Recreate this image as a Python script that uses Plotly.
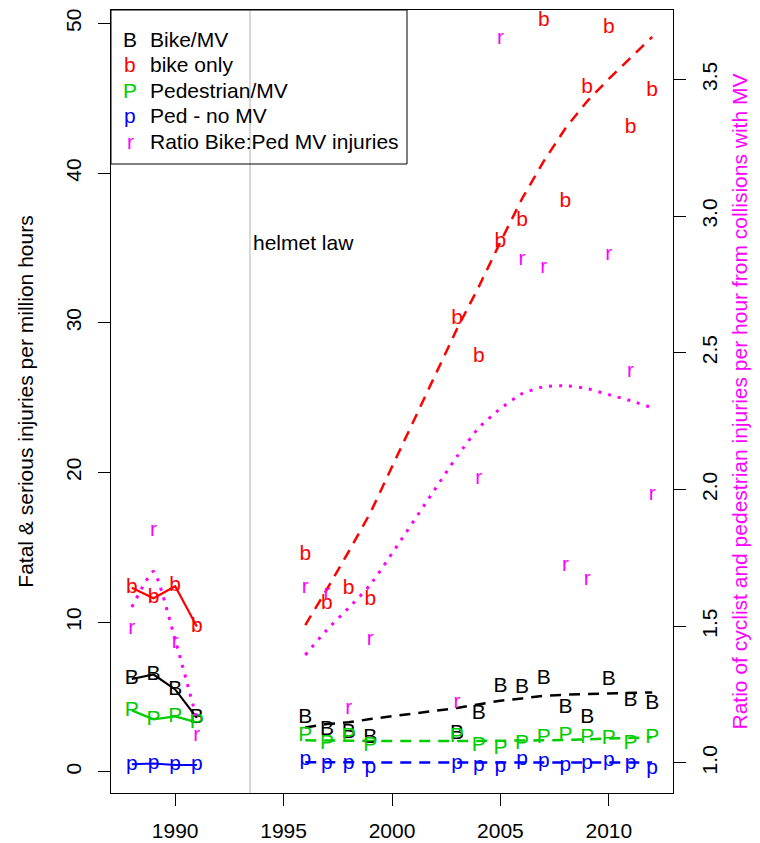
import plotly.graph_objects as go

# ---------------- data ----------------
early_years = [1988, 1989, 1990, 1991]
late_years = [1996, 1997, 1998, 1999, 2003, 2004, 2005, 2006, 2007, 2008, 2009, 2010, 2011, 2012]

bike_mv_early = [6.2, 6.5, 5.5, 3.6]
bike_only_early = [12.3, 11.6, 12.4, 9.7]
ped_mv_early = [4.1, 3.5, 3.7, 3.3]
ped_nomv_early = [0.5, 0.55, 0.45, 0.45]
ratio_early = [1.49, 1.85, 1.44, 1.10]
ratio_trend_early = [1.57, 1.70, 1.45, 1.16]

bike_mv_late = [3.63, 2.84, 2.63, 2.25, 2.56, 3.90, 5.68, 5.59, 6.2, 4.26, 3.63, 6.12, 4.75, 4.57]
bike_mv_trend = [2.96, 3.19, 3.30, 3.52, 4.26, 4.48, 4.75, 4.90, 5.08, 5.15, 5.19, 5.24, 5.28, 5.30]
bike_only_late = [14.5, 11.2, 12.2, 11.5, 30.3, 27.7, 35.4, 36.8, 50.2, 38.1, 45.7, 49.7, 43.0, 45.5]
bike_only_trend = [9.8, 12.2, 14.7, 17.3, 29.6, 32.4, 35.4, 38.3, 40.8, 43.0, 44.8, 46.3, 47.7, 49.1]
ped_mv_late = [2.4, 1.85, 2.34, 1.74, 2.34, 1.74, 1.52, 1.89, 2.25, 2.4, 2.25, 2.18, 1.85, 2.3]
ped_mv_trend = [2.10, 2.08, 2.07, 2.06, 2.05, 2.05, 2.06, 2.08, 2.10, 2.13, 2.17, 2.21, 2.25, 2.30]
ped_nomv_late = [0.78, 0.56, 0.56, 0.29, 0.51, 0.40, 0.33, 0.78, 0.69, 0.40, 0.51, 0.74, 0.56, 0.17]
ped_nomv_trend = [0.63, 0.63, 0.62, 0.62, 0.62, 0.62, 0.62, 0.62, 0.62, 0.62, 0.61, 0.61, 0.61, 0.61]
ratio_late = [1.64, 1.62, 1.20, 1.45, 1.22, 2.04, 3.65, 2.84, 2.81, 1.72, 1.67, 2.86, 2.43, 1.98]
ratio_trend_late = [1.395, 1.487, 1.567, 1.652, 2.121, 2.226, 2.296, 2.351, 2.376, 2.380, 2.369, 2.347, 2.325, 2.299]

helmet_law_year = 1993.45

x_ticks = [1990, 1995, 2000, 2005, 2010]
y_ticks = [0, 10, 20, 30, 40, 50]
y2_ticks = [1.0, 1.5, 2.0, 2.5, 3.0, 3.5]
y2_ticklabels = ["1.0", "1.5", "2.0", "2.5", "3.0", "3.5"]

legend_symbols = ["B", "b", "P", "p", "r"]
legend_labels = ["Bike/MV", "bike only", "Pedestrian/MV", "Ped - no MV", "Ratio Bike:Ped MV injuries"]

# ---------------- styles ----------------
FONT = "Liberation Sans, Arial, Helvetica, sans-serif"
FS = 21
BLACK, RED, GREEN, BLUE, MAGENTA = "#000000", "#FF0000", "#00CD00", "#0000FF", "#FF00FF"
colors = [BLACK, RED, GREEN, BLUE, MAGENTA]

fig = go.Figure()

def line(x, y, color, dash="solid", yaxis="y", shape="linear", width=2.2):
    fig.add_trace(go.Scatter(x=x, y=y, mode="lines", yaxis=yaxis,
                             line=dict(color=color, width=width, dash=dash, shape=shape, smoothing=0.5),
                             showlegend=False, hoverinfo="skip", cliponaxis=False))

def letters(x, y, ch, color, yaxis="y"):
    fig.add_trace(go.Scatter(x=x, y=y, mode="text", text=[ch] * len(x), yaxis=yaxis,
                             textposition="middle center",
                             textfont=dict(family=FONT, size=FS, color=color),
                             showlegend=False, cliponaxis=False))

DASH = "11px,8px"
DOT = "3px,7px"

# early period: solid lines
line(early_years, bike_only_early, RED)
line(early_years, bike_mv_early, BLACK)
line(early_years, ped_mv_early, GREEN)
line(early_years, ped_nomv_early, BLUE)
line(early_years, ratio_trend_early, MAGENTA, dash=DOT, yaxis="y2", shape="spline", width=3)

# late period: dashed trends
line(late_years, bike_only_trend, RED, dash=DASH, width=2.5)
line(late_years, bike_mv_trend, BLACK, dash=DASH, width=2.5)
line(late_years, ped_mv_trend, GREEN, dash=DASH, width=2.5)
line(late_years, ped_nomv_trend, BLUE, dash=DASH, width=2.5)
line(late_years, ratio_trend_late, MAGENTA, dash=DOT, yaxis="y2", shape="spline", width=3)

# points as letters
letters(early_years + late_years, ratio_early + ratio_late, "r", MAGENTA, yaxis="y2")
letters(early_years + late_years, bike_only_early + bike_only_late, "b", RED)
letters(early_years + late_years, bike_mv_early + bike_mv_late, "B", BLACK)
letters(early_years + late_years, ped_mv_early + ped_mv_late, "P", GREEN)
letters(early_years + late_years, ped_nomv_early + ped_nomv_late, "p", BLUE)

# helmet law marker
fig.add_shape(type="line", xref="x", yref="paper", x0=helmet_law_year, x1=helmet_law_year,
              y0=0, y1=1, line=dict(color="#BEBEBE", width=1.2), layer="below")
fig.add_annotation(x=helmet_law_year, y=35.35, xref="x", yref="y", text="helmet law",
                   showarrow=False, xanchor="left", yanchor="middle", xshift=1,
                   font=dict(family=FONT, size=FS, color=BLACK))

# legend box
W, H, L, B = 562, 783, 111, 50
def px2paper_x(px):
    return (px - L) / W
def px2paper_y(py):
    return (843 - B - py) / H

fig.add_shape(type="rect", xref="paper", yref="paper",
              x0=0, x1=px2paper_x(407), y0=px2paper_y(164), y1=1,
              line=dict(color=BLACK, width=1), fillcolor="rgba(0,0,0,0)")
row_y = [39.5, 64.9, 90.3, 115.7, 141.1]
for sym, lab, col, ry in zip(legend_symbols, legend_labels, colors, row_y):
    fig.add_annotation(x=px2paper_x(130), y=px2paper_y(ry), xref="paper", yref="paper",
                       text=sym, showarrow=False, xanchor="center", yanchor="middle",
                       font=dict(family=FONT, size=FS, color=col))
    fig.add_annotation(x=px2paper_x(148), y=px2paper_y(ry), xref="paper", yref="paper",
                       text=lab, showarrow=False, xanchor="left", yanchor="middle",
                       font=dict(family=FONT, size=FS, color=BLACK))

axis_common = dict(showgrid=False, zeroline=False, ticks="outside", ticklen=12,
                   tickcolor=BLACK, tickwidth=1, showline=True, linecolor=BLACK, linewidth=1,
                   tickfont=dict(family=FONT, size=FS, color=BLACK))

fig.update_layout(
    width=760, height=843,
    margin=dict(l=L, r=760 - L - W, t=843 - B - H, b=B, autoexpand=False),
    paper_bgcolor="white", plot_bgcolor="white",
    showlegend=False,
    font=dict(family=FONT, size=FS, color=BLACK),
    xaxis=dict(range=[1987.04, 2012.96], tickvals=x_ticks, mirror=True, ticklabelstandoff=7,
               **axis_common),
    yaxis=dict(range=[-1.42, 50.9], tickvals=y_ticks, tickangle=-90, mirror=True,
               ticklabelstandoff=9,
               title=dict(text="Fatal & serious injuries per million hours",
                          font=dict(family=FONT, size=FS, color=BLACK), standoff=22),
               **axis_common),
    yaxis2=dict(range=[0.890, 3.754], tickvals=y2_ticks, ticktext=y2_ticklabels,
                tickangle=-90, overlaying="y", side="right", ticklabelstandoff=6,
                title=dict(text="Ratio of cyclist and pedestrian injuries per hour from collisions with MV",
                           font=dict(family=FONT, size=FS, color=MAGENTA), standoff=12),
                **axis_common),
)

fig.write_html("out.html")
